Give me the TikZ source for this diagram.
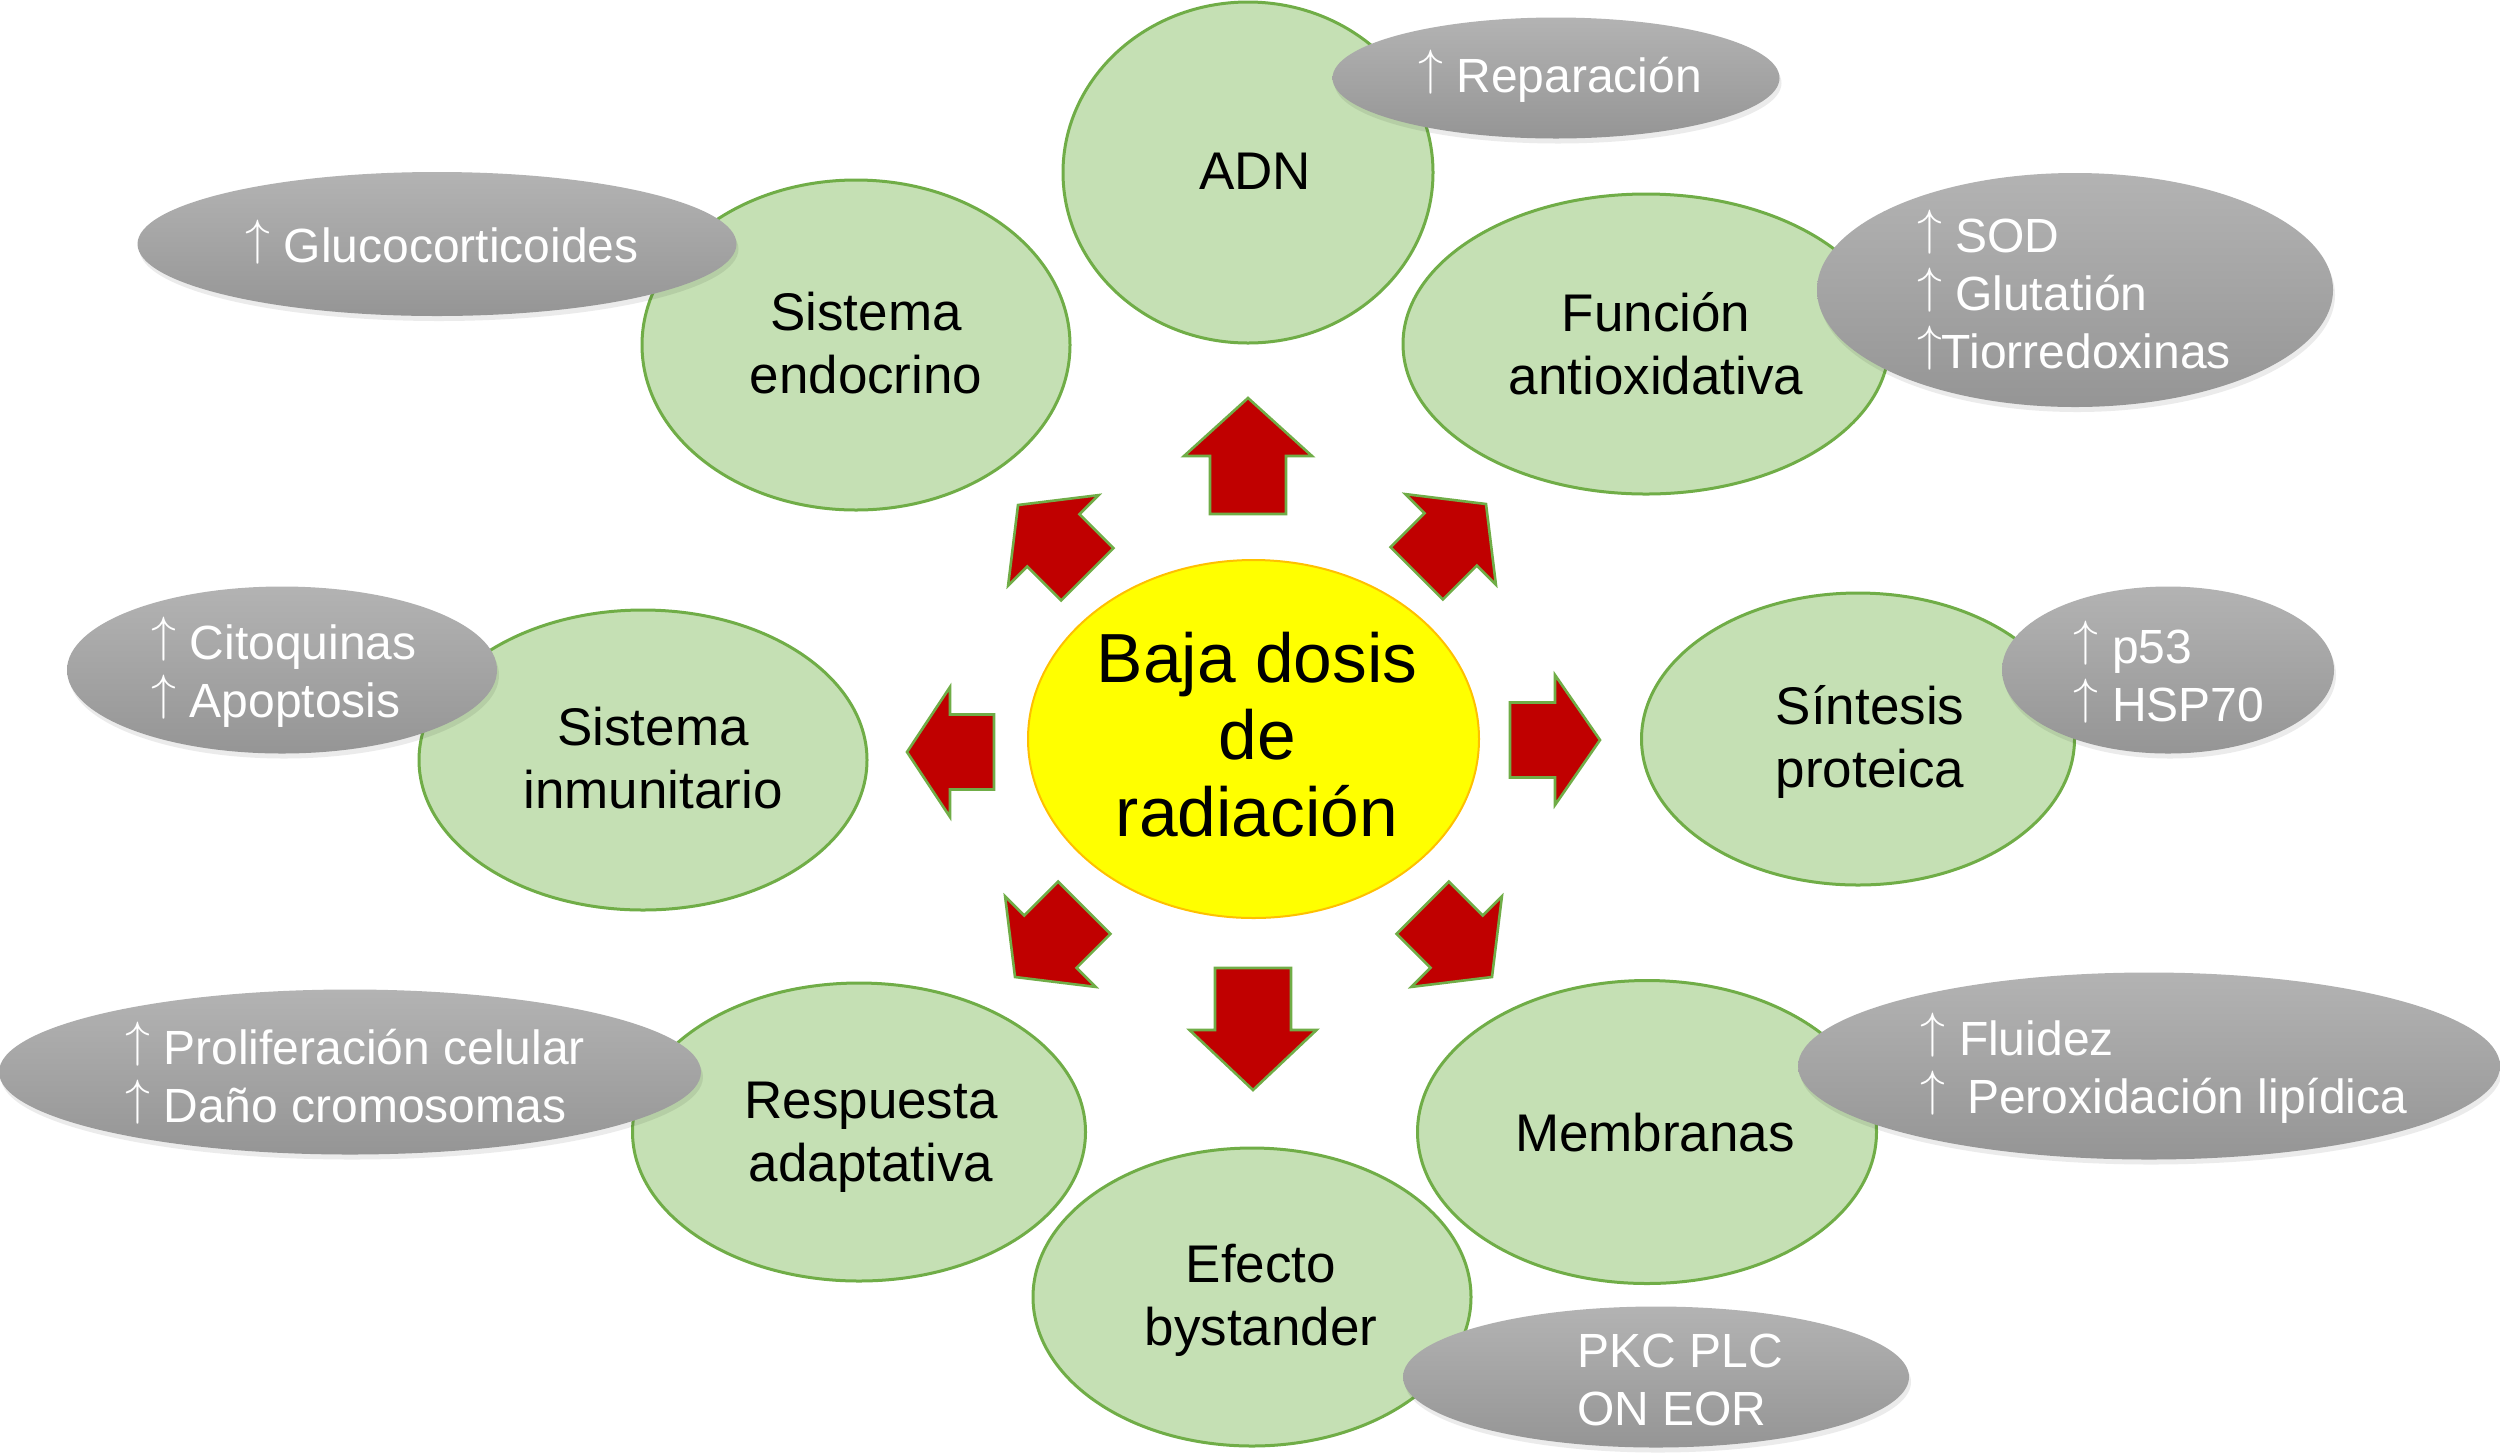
\documentclass[tikz,border=0pt]{standalone}
\usepackage{fontspec}
\setmainfont{Liberation Sans}
\usetikzlibrary{shapes.geometric,shadows}
\definecolor{gfill}{HTML}{C5E0B4}
\definecolor{gline}{HTML}{70AD47}
\definecolor{ared}{HTML}{C00000}
\definecolor{ylw}{HTML}{FFFF00}
\definecolor{orng}{HTML}{FFC000}
\definecolor{greytop}{HTML}{B3B3B3}
\definecolor{greybot}{HTML}{959595}
\newcommand{\upar}{\raisebox{0.17em}{$\uparrow$}}
% tip x, tip y, angle, head length, shaft length, head half width, shaft half width
\newcommand{\blockarrow}[7]{%
  \draw[arrowstyle, shift={(#1,#2)}, rotate=#3]
    (0,0) -- (-#4,#6) -- (-#4,#7) -- (-#4-#5,#7) -- (-#4-#5,-#7)
    -- (-#4,-#7) -- (-#4,-#6) -- cycle;}
\begin{document}
\begin{tikzpicture}[x=0.5pt,y=-0.5pt,
  greenell/.style={ellipse, draw=gline, fill=gfill, line width=1.5pt, inner sep=0pt},
  greyell/.style={ellipse, top color=greytop, bottom color=greybot, draw=none, inner sep=0pt,
     drop shadow={shadow xshift=1pt, shadow yshift=-2.5pt, opacity=0.08, fill=black}},
  greytxt/.style={text=white, align=left, font=\fontsize{24}{29}\selectfont, inner sep=0pt},
  greentxt/.style={align=center, font=\fontsize{26.5}{31.5}\selectfont, inner sep=0pt},
  centertxt/.style={align=center, font=\fontsize{34.75}{38.5}\selectfont, inner sep=0pt},
  arrowstyle/.style={fill=ared, draw=gline, line width=1.3pt, line join=miter}]
\useasboundingbox[fill=white] (0,0) rectangle (2500,1453);

% green ellipses
\node[greenell, minimum width=185pt, minimum height=170.5pt] (adn) at (1248,172.5) {};
\node[greenell, minimum width=214pt, minimum height=165pt] (endo) at (856,345) {};
\node[greenell, minimum width=243pt, minimum height=150pt] (anti) at (1646,344) {};
\node[greenell, minimum width=224pt, minimum height=150pt] (inmu) at (643,760) {};
\node[greenell, minimum width=216.5pt, minimum height=146pt] (sint) at (1858,739) {};
\node[greenell, minimum width=226.5pt, minimum height=149pt] (resp) at (859,1132) {};
\node[greenell, minimum width=229.5pt, minimum height=151.5pt] (memb) at (1647,1132) {};
\node[greenell, minimum width=219pt, minimum height=149pt] (efec) at (1252,1297) {};

\node[greentxt] (adnt) at (1255,171) {ADN};
\node[greentxt] (endot) at (866,343) {Sistema\\endocrino};
\node[greentxt] (antit) at (1656,344) {Función\\antioxidativa};
\node[greentxt] (inmut) at (653,758) {Sistema\\inmunitario};
\node[greentxt] (sintt) at (1870,742) {Síntesis\\proteica};
\node[greentxt] (respt) at (871,1137) {Respuesta\\adaptativa};
\node[greentxt] (membt) at (1655,1133) {Membranas};
\node[greentxt] (efect) at (1261,1300) {Efecto\\bystander};

% centre
\node[ellipse, draw=orng, fill=ylw, line width=1pt, inner sep=0pt,
      minimum width=225.5pt, minimum height=179pt] (centro) at (1253.5,739) {};
\node[centertxt] (centrot) at (1257,735) {Baja dosis\\de\\radiación};

% block arrows
\blockarrow{1248}{398}{90}{58}{58}{64}{38}
\blockarrow{1253}{1090}{270}{60}{62}{63.5}{38}
\blockarrow{907}{752}{180}{43}{44}{65}{37.5}
\blockarrow{1600}{740}{0}{45}{45}{65}{37.5}
\blockarrow{1018}{505}{135}{50}{48}{64}{37}
\blockarrow{1486}{504}{45}{50}{48}{64}{37}
\blockarrow{1015}{977}{225}{50}{48}{64}{37}
\blockarrow{1492}{977}{315}{50}{48}{64}{37}

% grey ellipses
\node[greyell, minimum width=223.5pt, minimum height=60.5pt] (rep) at (1556,78) {};
\node[greyell, minimum width=299.5pt, minimum height=72pt] (gluc) at (437,244) {};
\node[greyell, minimum width=258pt, minimum height=117pt] (sod) at (2075,290) {};
\node[greyell, minimum width=215pt, minimum height=83.5pt] (cito) at (282,670) {};
\node[greyell, minimum width=166pt, minimum height=83.5pt] (p53) at (2168,670) {};
\node[greyell, minimum width=351pt, minimum height=82.5pt] (prol) at (350,1072) {};
\node[greyell, minimum width=351pt, minimum height=93.5pt] (flui) at (2149,1066) {};
\node[greyell, minimum width=253pt, minimum height=70.5pt] (pkc) at (1656,1377) {};

\node[greytxt] (rept) at (1560,76) {\upar\ Reparación};
\node[greytxt] (gluct) at (442,242) {\upar\ Glucocorticoides};
\node[greytxt] (sodt) at (2074,290) {\upar\ SOD\\\upar\ Glutatión\\\upar Tiorredoxinas};
\node[greytxt] (citot) at (284,672) {\upar\ Citoquinas\\\upar\ Apoptosis};
\node[greytxt] (p53t) at (2169,672) {\upar\ p53\\\upar\ HSP70};
\node[greytxt] (prolt) at (355,1073) {\upar\ Proliferación celular\\\upar\ Daño cromosomas};
\node[greytxt] (fluit) at (2164,1068) {\upar\ Fluidez\\\upar~\,Peroxidación lipídica};
\node[greytxt] (pkct) at (1680,1380) {PKC PLC\\ON EOR};
\end{tikzpicture}
\end{document}
